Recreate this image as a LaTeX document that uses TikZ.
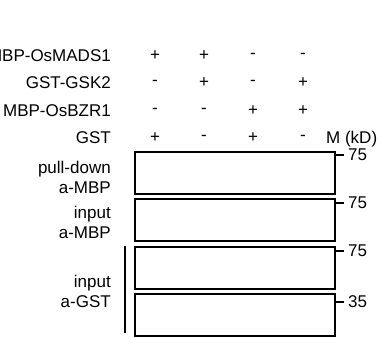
\documentclass[tikz,border=0pt]{standalone}
\usepackage{fontspec}
\setmainfont{Liberation Sans}
\begin{document}
\begin{tikzpicture}[x=1pt,y=-1pt,
  lab/.style={font=\fontsize{17}{20}\selectfont, inner sep=0pt},
  rlab/.style={lab, anchor=east, align=right},
  sign/.style={lab, anchor=center},
  blot/.style={draw, line width=2.3pt, minimum width=200pt, minimum height=42pt, inner sep=0pt, anchor=north west},
  tick/.style={line width=2.2pt},
  mw/.style={lab, anchor=west}]
\useasboundingbox (0,0) rectangle (382,337);
% header labels
\node[rlab] (r1) at (111,55.5) {MBP-OsMADS1};
\node[rlab] (r2) at (111,83) {GST-GSK2};
\node[rlab] (r3) at (111,110.5) {MBP-OsBZR1};
\node[rlab] (r4) at (111,138) {GST};
% signs
\foreach \row/\y/\a/\b/\c/\d in {1/55.5/+/+/-/-, 2/83/-/+/-/+, 3/110.5/-/-/+/+, 4/138/+/-/+/-}{
  \node[sign] (s\row a) at (155,\y) {\a};
  \node[sign] (s\row b) at (204,\y) {\b};
  \node[sign] (s\row c) at (253,\y) {\c};
  \node[sign] (s\row d) at (303,\y) {\d};
}
\node[mw] (mkd) at (326,139) {M (kD)};
% blots
\node[blot] (b1) at (134,151) {};
\node[blot] (b2) at (134,197.5) {};
\node[blot] (b3) at (134,245.5) {};
\node[blot] (b4) at (134,292.5) {};
% side labels
\node[rlab] (l1) at (111,177) {pull-down\\a-MBP};
\node[rlab] (l2) at (111,222) {input\\a-MBP};
\node[rlab] (l3) at (111,291.5) {input\\a-GST};
\coordinate (bt) at (125,246);
\coordinate (bb) at (125,333);
\draw[tick] (bt) -- (bb);
% ticks and markers
\foreach \i/\y/\m in {1/155/75, 2/203/75, 3/251/75, 4/302/35}{
  \coordinate (t\i) at (335,\y);
  \coordinate (u\i) at (344,\y);
  \draw[tick] (t\i) -- (u\i);
  \node[mw] (m\i) at (348,\y) {\m};
}
\end{tikzpicture}
\end{document}
